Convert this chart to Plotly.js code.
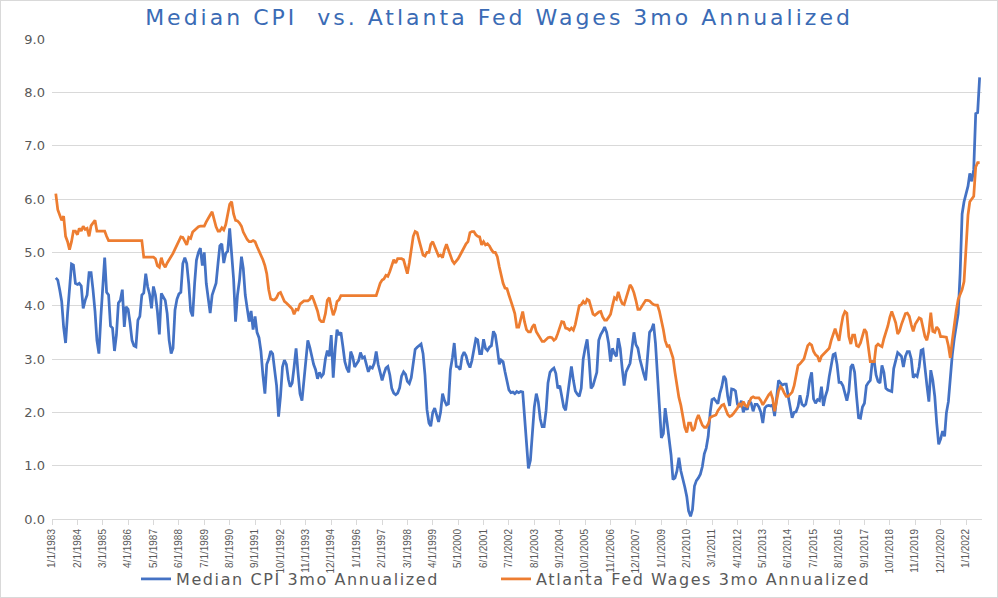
<!DOCTYPE html>
<html>
<head>
<meta charset="utf-8">
<script src="https://cdn.plot.ly/plotly-3.0.1.min.js"></script>
<style>
  html, body { margin: 0; padding: 0; background: #ffffff; }
  #chart { width: 998px; height: 598px; }
  #frame { position: absolute; left: 0; top: 0; width: 996px; height: 596px; border: 1px solid #D9D9D9; pointer-events: none; }
  #chart .gtitle { letter-spacing: 3px; }
  #chart .legendtext { letter-spacing: 1.6px; }
  #chart .legend .scrollbox, #chart .legend { clip-path: none !important; }
</style>
</head>
<body>
<div id="chart"></div>
<div id="frame"></div>
<script>
// First observation: March 1983, monthly through Aug 2022
const startYear = 1983;
const startMonth = 3;

// Median CPI 3mo Annualized (%), one row per calendar year
const medianCPI = [
  4.52, 4.48, 4.3, 4.08, 3.6, 3.3, 3.86, 4.3, 4.78, 4.76,                 // 1983 (Mar-Dec)
  4.42, 4.4, 4.42, 4.37, 3.95, 4.1, 4.2, 4.62, 4.62, 4.3, 3.9, 3.35,      // 1984
  3.1, 3.8, 4.3, 4.9, 4.25, 4.2, 3.62, 3.58, 3.15, 3.45, 4.05, 4.1,       // 1985
  4.3, 3.6, 3.98, 3.93, 3.68, 3.35, 3.25, 3.23, 3.73, 3.8, 4.2, 4.24,     // 1986
  4.6, 4.35, 4.22, 3.95, 4.36, 4.2, 3.9, 3.46, 4.23, 4.17, 4.1, 3.85,     // 1987
  3.35, 3.1, 3.2, 3.92, 4.12, 4.22, 4.25, 4.79, 4.9, 4.79, 4.42, 3.9,     // 1988
  3.8, 4.42, 4.85, 5.0, 5.08, 4.75, 5.0, 4.42, 4.15, 3.86, 4.2, 4.33,     // 1989
  4.42, 4.8, 5.12, 5.16, 4.8, 4.98, 5.02, 5.45, 5.0, 4.5, 3.7, 4.2,       // 1990
  4.48, 4.92, 4.7, 4.2, 3.95, 3.7, 3.9, 3.55, 3.8, 3.5, 3.4, 3.15,        // 1991
  2.7, 2.35, 2.9, 3.0, 3.15, 3.1, 2.8, 2.5, 1.92, 2.3, 2.85, 2.98,        // 1992
  2.9, 2.62, 2.48, 2.55, 2.85, 3.2, 2.75, 2.35, 2.22, 2.6, 3.05, 3.35,    // 1993
  3.22, 3.02, 2.9, 2.8, 2.63, 2.75, 2.67, 2.72, 3.0, 3.16, 3.05, 3.45,    // 1994
  2.65, 3.2, 3.55, 3.45, 3.5, 3.23, 2.95, 2.82, 2.75, 3.14, 3.04, 2.85,   // 1995
  2.9, 2.97, 3.12, 3.02, 3.04, 2.92, 2.76, 2.85, 2.83, 2.92, 3.14, 2.9,   // 1996
  2.72, 2.6, 2.72, 2.83, 2.86, 2.7, 2.45, 2.36, 2.33, 2.36, 2.46, 2.68,   // 1997
  2.76, 2.71, 2.58, 2.54, 2.65, 2.9, 3.18, 3.22, 3.26, 3.28, 3.1, 2.7,    // 1998
  2.05, 1.8, 1.74, 2.0, 2.08, 1.94, 1.82, 2.0, 2.35, 2.22, 2.14, 2.16,    // 1999
  2.8, 3.02, 3.3, 2.86, 2.85, 2.8, 3.05, 3.13, 3.06, 2.92, 2.84, 2.97,    // 2000
  3.2, 3.38, 3.36, 3.1, 3.1, 3.37, 3.2, 3.16, 3.22, 3.25, 3.52, 3.45,     // 2001
  3.2, 2.9, 2.98, 2.95, 2.76, 2.55, 2.42, 2.37, 2.38, 2.35, 2.39, 2.37,   // 2002
  2.39, 2.38, 1.95, 1.3, 0.95, 1.1, 1.7, 2.1, 2.35, 2.2, 1.88, 1.73,      // 2003
  1.73, 2.04, 2.55, 2.75, 2.8, 2.83, 2.73, 2.45, 2.5, 2.3, 2.1, 2.04,     // 2004
  2.3, 2.65, 2.86, 2.6, 2.4, 2.34, 2.3, 2.45, 3.0, 3.2, 3.37, 3.0,        // 2005
  2.45, 2.5, 2.62, 2.75, 3.35, 3.46, 3.52, 3.6, 3.5, 3.3, 2.95, 3.2,      // 2006
  3.1, 3.05, 3.39, 3.2, 2.83, 2.5, 2.76, 2.86, 2.92, 3.2, 3.5, 3.27,      // 2007
  3.2, 3.0, 2.85, 2.72, 2.6, 3.0, 3.5, 3.55, 3.66, 3.3, 2.7, 2.0,         // 2008
  1.52, 1.6, 2.08, 1.8, 1.5, 1.2, 0.74, 0.77, 0.9, 1.15, 0.9, 0.72,       // 2009
  0.6, 0.42, 0.15, 0.05, 0.18, 0.62, 0.72, 0.77, 0.84, 0.98, 1.22, 1.33,  // 2010
  1.55, 2.0, 2.24, 2.26, 2.2, 2.16, 2.35, 2.48, 2.68, 2.62, 2.3, 2.12,    // 2011
  2.44, 2.43, 2.4, 2.15, 2.1, 2.22, 2.0, 2.1, 2.05, 2.22, 2.17, 2.02,     // 2012
  2.15, 2.15, 2.1, 2.0, 1.8, 2.08, 2.12, 2.13, 2.12, 2.14, 1.93, 2.25,    // 2013
  2.6, 2.55, 2.51, 2.53, 2.53, 2.3, 2.1, 1.9, 2.0, 2.01, 2.11, 2.32,      // 2014
  2.15, 2.12, 2.15, 2.33, 2.6, 2.75, 2.25, 2.17, 2.24, 2.22, 2.48, 2.12,  // 2015
  2.3, 2.42, 2.67, 2.85, 3.08, 3.1, 2.9, 2.56, 2.56, 2.5, 2.36, 2.22,     // 2016
  2.4, 2.85, 2.9, 2.75, 2.3, 1.9, 1.89, 2.1, 2.17, 2.5, 2.56, 2.6,        // 2017
  2.95, 2.95, 2.7, 2.58, 2.55, 2.88, 2.75, 2.45, 2.42, 2.4, 2.39, 2.82,   // 2018
  3.0, 3.12, 3.09, 3.05, 2.85, 3.05, 3.14, 3.14, 3.0, 2.65, 2.7, 2.67,    // 2019
  2.85, 3.16, 3.18, 2.8, 2.51, 2.2, 2.79, 2.6, 2.3, 1.8, 1.4, 1.5,        // 2020
  1.65, 1.55, 1.99, 2.2, 2.65, 3.08, 3.38, 3.6, 3.85, 4.6, 5.72, 5.95,    // 2021
  6.1, 6.24, 6.48, 6.33, 6.55, 7.6, 7.62, 8.28                            // 2022 (Jan-Aug)
];

// Atlanta Fed Wages 3mo Annualized (%), one row per calendar year
const atlantaWages = [
  6.1, 5.8, 5.7, 5.6, 5.68, 5.3, 5.2, 5.05, 5.2, 5.4,                     // 1983 (Mar-Dec)
  5.4, 5.33, 5.45, 5.4, 5.49, 5.43, 5.45, 5.3, 5.5, 5.56, 5.6, 5.4,       // 1984
  5.4, 5.4, 5.4, 5.4, 5.3, 5.22, 5.22, 5.22, 5.22, 5.22, 5.22, 5.22,      // 1985
  5.22, 5.22, 5.22, 5.22, 5.22, 5.22, 5.22, 5.22, 5.22, 5.22, 5.22, 4.91, // 1986
  4.91, 4.91, 4.91, 4.91, 4.91, 4.88, 4.75, 4.72, 4.9, 4.78, 4.72, 4.8,   // 1987
  4.86, 4.91, 4.98, 5.06, 5.13, 5.2, 5.29, 5.28, 5.2, 5.14, 5.28, 5.26,   // 1988
  5.38, 5.41, 5.45, 5.48, 5.49, 5.49, 5.49, 5.57, 5.65, 5.7, 5.76, 5.62,  // 1989
  5.48, 5.4, 5.4, 5.46, 5.42, 5.52, 5.72, 5.9, 5.95, 5.72, 5.6, 5.59,     // 1990
  5.55, 5.49, 5.38, 5.3, 5.24, 5.2, 5.2, 5.22, 5.2, 5.11, 5.03, 4.94,     // 1991
  4.86, 4.75, 4.6, 4.3, 4.13, 4.11, 4.11, 4.15, 4.23, 4.25, 4.15, 4.08,   // 1992
  4.05, 4.02, 3.98, 3.94, 3.84, 3.93, 3.92, 4.03, 4.06, 4.09, 4.09, 4.09, // 1993
  4.12, 4.19, 4.11, 4.0, 3.9, 3.74, 3.7, 3.7, 3.85, 4.1, 4.15, 3.97,      // 1994
  3.82, 3.92, 4.08, 4.11, 4.19, 4.19, 4.19, 4.19, 4.19, 4.19, 4.19, 4.19, // 1995
  4.19, 4.19, 4.19, 4.19, 4.19, 4.19, 4.19, 4.19, 4.19, 4.19, 4.19, 4.3,  // 1996
  4.42, 4.48, 4.5, 4.57, 4.55, 4.64, 4.74, 4.86, 4.8, 4.88, 4.88, 4.88,   // 1997
  4.86, 4.74, 4.6, 4.8, 5.1, 5.3, 5.39, 5.37, 5.22, 5.08, 4.95, 4.93,     // 1998
  5.0, 5.0, 5.15, 5.2, 5.1, 5.02, 4.93, 4.95, 4.9, 5.05, 5.15, 5.05,      // 1999
  4.92, 4.84, 4.79, 4.83, 4.88, 4.95, 5.02, 5.08, 5.16, 5.2, 5.37, 5.39,  // 2000
  5.39, 5.33, 5.3, 5.29, 5.14, 5.2, 5.14, 5.16, 5.12, 5.05, 5.0, 5.0,     // 2001
  4.92, 4.73, 4.55, 4.42, 4.33, 4.32, 4.2, 4.1, 3.97, 3.85, 3.6, 3.6,     // 2002
  3.75, 3.89, 3.7, 3.55, 3.51, 3.51, 3.6, 3.65, 3.51, 3.45, 3.39, 3.33,   // 2003
  3.33, 3.37, 3.4, 3.41, 3.4, 3.35, 3.38, 3.48, 3.6, 3.7, 3.69, 3.58,     // 2004
  3.57, 3.54, 3.58, 3.54, 3.65, 3.85, 4.0, 4.02, 4.08, 4.03, 4.12, 4.1,   // 2005
  3.95, 3.84, 3.82, 3.86, 3.88, 3.89, 3.79, 3.73, 3.73, 3.78, 3.84, 4.0,  // 2006
  4.15, 4.12, 4.26, 4.13, 4.04, 4.02, 4.14, 4.28, 4.39, 4.34, 4.24, 4.1,  // 2007
  3.93, 3.93, 3.99, 4.06, 4.1, 4.1, 4.09, 4.05, 4.02, 4.01, 4.01, 3.9,    // 2008
  3.74, 3.55, 3.35, 3.24, 3.25, 3.15, 3.02, 2.75, 2.5, 2.28, 2.13, 1.95,  // 2009
  1.72, 1.62, 1.8, 1.8, 1.65, 1.7, 1.86, 1.95, 1.84, 1.76, 1.72, 1.72,    // 2010
  1.78, 1.9, 1.92, 1.93, 1.95, 2.03, 2.08, 2.13, 2.15, 2.05, 1.96, 1.92,  // 2011
  1.94, 1.98, 2.04, 2.08, 2.17, 2.12, 2.2, 2.13, 2.11, 2.2, 2.27, 2.29,   // 2012
  2.27, 2.27, 2.27, 2.22, 2.14, 2.2, 2.28, 2.33, 2.37, 2.26, 2.02, 2.2,   // 2013
  2.4, 2.48, 2.44, 2.36, 2.3, 2.3, 2.34, 2.38, 2.5, 2.7, 2.88, 2.91,      // 2014
  2.96, 3.0, 3.12, 3.25, 3.29, 3.26, 3.14, 3.08, 3.05, 2.95, 3.05, 3.09,  // 2015
  3.12, 3.17, 3.2, 3.35, 3.48, 3.57, 3.45, 3.34, 3.6, 3.8, 3.89, 3.86,    // 2016
  3.42, 3.28, 3.45, 3.45, 3.25, 3.23, 3.3, 3.44, 3.56, 3.5, 3.2, 2.95,    // 2017
  2.95, 2.95, 3.24, 3.28, 3.25, 3.23, 3.38, 3.49, 3.62, 3.78, 3.89, 3.79, // 2018
  3.68, 3.47, 3.52, 3.65, 3.75, 3.85, 3.86, 3.8, 3.64, 3.52, 3.65, 3.7,   // 2019
  3.77, 3.75, 3.6, 3.42, 3.35, 3.52, 3.87, 3.52, 3.5, 3.6, 3.55, 3.42,    // 2020
  3.42, 3.42, 3.41, 3.25, 3.02, 3.35, 3.68, 3.9, 4.12, 4.2, 4.3, 4.45,    // 2021
  5.0, 5.7, 5.95, 6.0, 6.05, 6.6, 6.68, 6.68                              // 2022 (Jan-Aug)
];

// Category-axis tick labels (every 13th month, as in the original)
const tickLabels = [
  "1/1/1983", "2/1/1984", "3/1/1985", "4/1/1986", "5/1/1987", "6/1/1988",
  "7/1/1989", "8/1/1990", "9/1/1991", "10/1/1992", "11/1/1993", "12/1/1994",
  "1/1/1996", "2/1/1997", "3/1/1998", "4/1/1999", "5/1/2000", "6/1/2001",
  "7/1/2002", "8/1/2003", "9/1/2004", "10/1/2005", "11/1/2006", "12/1/2007",
  "1/1/2009", "2/1/2010", "3/1/2011", "4/1/2012", "5/1/2013", "6/1/2014",
  "7/1/2015", "8/1/2016", "9/1/2017", "10/1/2018", "11/1/2019", "12/1/2020",
  "1/1/2022"
];

const seriesNames = ["Median CPI 3mo Annualized", "Atlanta Fed Wages 3mo Annualized"];
const seriesColors = ["#4472C4", "#ED7D31"];

function pad(n) { return (n < 10 ? "0" : "") + n; }
function monthDate(i) {
  const k = (startMonth - 1) + i;
  const y = startYear + Math.floor(k / 12);
  const m = (k % 12) + 1;
  return y + "-" + pad(m) + "-01";
}
function labelToDate(s) {
  const p = s.split("/");
  return p[2] + "-" + pad(+p[0]) + "-" + pad(+p[1]);
}

const xDates = medianCPI.map((_, i) => monthDate(i));
const xDates2 = atlantaWages.map((_, i) => monthDate(i));

const FONT = "DejaVu Sans, Noto Sans, sans-serif";
const TICKFONT = "Liberation Sans, Arial, sans-serif";
const GREY = "#595959";

const traces = [
  { x: xDates, y: medianCPI, type: "scatter", mode: "lines", name: seriesNames[0],
    line: { color: seriesColors[0], width: 2.75 } },
  { x: xDates2, y: atlantaWages, type: "scatter", mode: "lines", name: seriesNames[1],
    line: { color: seriesColors[1], width: 2.75 } }
];

const layout = {
  width: 998, height: 598,
  paper_bgcolor: "#ffffff", plot_bgcolor: "#ffffff",
  margin: { l: 52, r: 16, t: 39, b: 79, autoexpand: false },
  font: { family: FONT, color: GREY },
  title: {
    text: "Median CPI \u00a0vs. Atlanta Fed Wages 3mo Annualized",
    font: { family: FONT, size: 22, color: "#3A6BB5" },
    x: 0.5, xref: "container", xanchor: "center",
    y: 1 - 17 / 598, yref: "container", yanchor: "middle"
  },
  xaxis: {
    type: "date",
    range: ["1983-01-01", "2022-09-07"],
    tickmode: "array",
    tickvals: tickLabels.map(labelToDate),
    ticktext: tickLabels,
    tickangle: -90,
    tickfont: { family: TICKFONT, size: 10, color: GREY },
    showgrid: false,
    showline: true, linecolor: "#D9D9D9", linewidth: 1,
    ticks: "outside", ticklen: 5, tickcolor: "#D9D9D9", tickwidth: 1,
    zeroline: false, fixedrange: true, automargin: false
  },
  yaxis: {
    range: [0, 9],
    tickmode: "linear", tick0: 0, dtick: 1,
    tickformat: ".1f",
    tickfont: { family: FONT, size: 13, color: GREY },
    showgrid: true, gridcolor: "#D9D9D9", gridwidth: 1,
    zeroline: false, showline: false, ticks: "",
    ticklabelstandoff: 6, fixedrange: true, automargin: false
  },
  showlegend: true,
  legend: {
    orientation: "h",
    x: (136 - 52) / 930, xanchor: "left",
    yref: "container",
    y: 19 / 598, yanchor: "middle",
    font: { family: FONT, size: 16, color: GREY },
    itemwidth: 30,
    entrywidth: 315, entrywidthmode: "pixels",
    bgcolor: "rgba(0,0,0,0)"
  }
};

Plotly.newPlot("chart", traces, layout, { displayModeBar: false, staticPlot: true });
</script>
</body>
</html>
